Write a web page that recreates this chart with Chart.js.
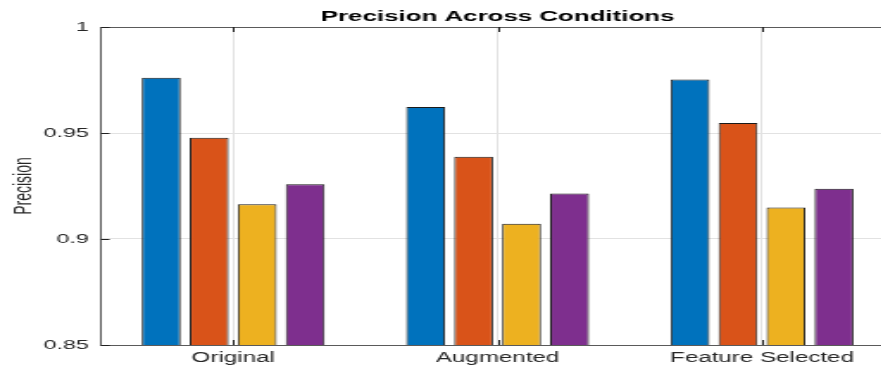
<!DOCTYPE html>
<html><head><meta charset="utf-8">
<script src="https://cdn.jsdelivr.net/npm/chart.js@4"></script>
<style>
html,body{margin:0;padding:0;overflow:hidden;background:#fff;width:881px;height:369px}
</style></head><body>
<canvas id="c" width="519" height="369" style="display:block;width:895px;height:369px"></canvas>
<script>
const categories = ['Original', 'Augmented', 'Feature Selected'];
const seriesNames = ['Series 1', 'Series 2', 'Series 3', 'Series 4'];
const series1 = [0.9761, 0.9623, 0.9752];
const series2 = [0.9478, 0.9388, 0.9547];
const series3 = [0.9164, 0.9072, 0.9149];
const series4 = [0.9258, 0.9215, 0.9237];
const yTickValues = [0.85, 0.9, 0.95, 1];
const yTickLabels = ['0.85', '0.9', '0.95', '1'];
const chartTitle = 'Precision Across Conditions';
const yAxisTitle = 'Precision';

const colors = ['#0072BD', '#D95319', '#EDB120', '#7E2F8E'];
const allSeries = [series1, series2, series3, series4];
const FONT = "'Liberation Sans', Arial, Helvetica, sans-serif";

const frame = {
  id: 'frame',
  afterDatasetsDraw(chart) {
    const {ctx, chartArea: a, scales: {x, y}} = chart;
    ctx.save();
    ctx.lineWidth = 1;
    ctx.strokeStyle = '#5a5a5a';
    ctx.beginPath();
    ctx.moveTo(a.left, a.top + 0.5);
    ctx.lineTo(a.right, a.top + 0.5);
    ctx.stroke();
    ctx.strokeStyle = '#202020';
    ctx.beginPath();
    yTickValues.forEach(v => {
      const py = Math.round(y.getPixelForValue(v)) + 0.5;
      ctx.moveTo(a.left, py); ctx.lineTo(a.left + 5, py);
    });
    categories.forEach((c, i) => {
      const px = Math.round(x.getPixelForValue(i)) + 0.5;
      ctx.moveTo(px, a.bottom); ctx.lineTo(px, a.bottom - 5);
      ctx.moveTo(px, a.top); ctx.lineTo(px, a.top + 5);
    });
    ctx.stroke();
    ctx.restore();
  }
};

new Chart(document.getElementById('c'), {
  type: 'bar',
  data: {
    labels: categories,
    datasets: allSeries.map((s, i) => ({
      label: seriesNames[i],
      data: s,
      backgroundColor: colors[i],
      borderColor: '#1a1a1a',
      borderWidth: 1,
      categoryPercentage: 0.726,
      barPercentage: 0.81
    }))
  },
  options: {
    responsive: false,
    devicePixelRatio: 1,
    animation: false,
    layout: {padding: {left: 0, right: 0.45, top: 0, bottom: 0}},
    plugins: {
      legend: {display: false},
      tooltip: {enabled: false},
      title: {
        display: true,
        text: chartTitle,
        fullSize: false,
        color: '#000',
        font: {family: FONT, size: 15, weight: 'bold'},
        padding: {top: 8, bottom: 1}
      }
    },
    scales: {
      x: {
        offset: true,
        grid: {offset: false, color: '#e2e2e2', drawTicks: false},
        border: {color: '#5a5a5a'},
        ticks: {color: '#262626', font: {family: FONT, size: 14}, padding: 5, maxRotation: 0},
        afterFit(s) { s.height = 24; }
      },
      y: {
        min: 0.85,
        max: 1,
        afterBuildTicks(s) { s.ticks = yTickValues.map(v => ({value: v})); },
        ticks: {
          color: '#262626',
          font: {family: FONT, size: 13.5},
          padding: 7,
          callback: (v, i) => yTickLabels[i]
        },
        grid: {color: '#e2e2e2', drawTicks: false},
        border: {color: '#5a5a5a'},
        title: {
          display: true,
          text: yAxisTitle,
          color: '#262626',
          font: {family: FONT, size: 14},
          padding: {top: 5.5, bottom: 0}
        },
        afterFit(s) { s.width = 58.55; }
      }
    }
  },
  plugins: [frame]
});
</script>
</body></html>
